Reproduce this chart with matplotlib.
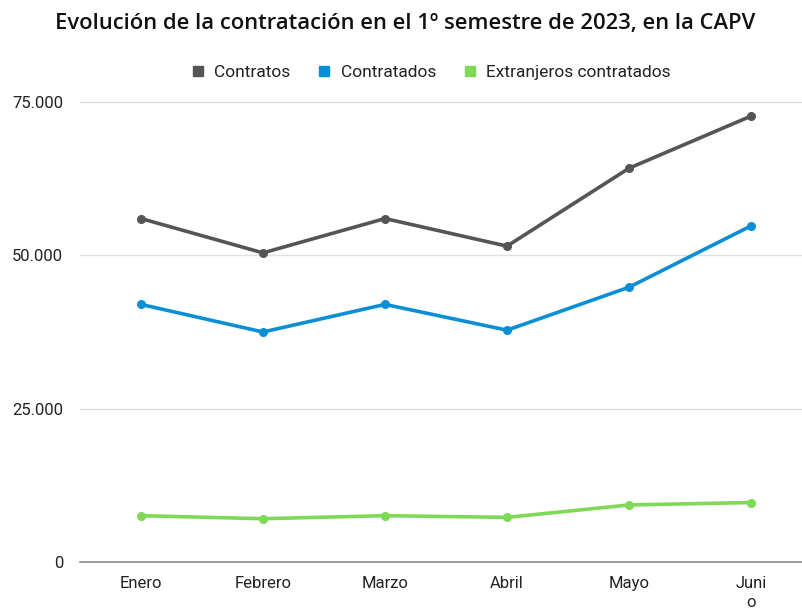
import matplotlib
matplotlib.use("Agg")
import matplotlib.pyplot as plt
from matplotlib.lines import Line2D

months = ["Enero", "Febrero", "Marzo", "Abril", "Mayo", "Juni\no"]
contratos = [56000, 50400, 56000, 51500, 64200, 72700]
contratados = [42000, 37500, 42000, 37800, 44800, 54800]
extranjeros = [7550, 7060, 7550, 7280, 9300, 9700]
series_names = ["Contratos", "Contratados", "Extranjeros contratados"]
colors = ["#555555", "#0a8fd6", "#7ed957"]
yticks = [0, 25000, 50000, 75000]
ytick_labels = ["0", "25.000", "50.000", "75.000"]

plt.rcParams['font.family'] = ['Roboto', 'DejaVu Sans']

fig = plt.figure(figsize=(8.02, 6.10), dpi=100)
W, H = 802, 610
left, right, top, bottom = 80, 812, 102, 562
ax = fig.add_axes([left / W, 1 - bottom / H, (right - left) / W, (bottom - top) / H])

x = list(range(len(months)))
for vals, c in zip([contratos, contratados, extranjeros], colors):
    ax.plot(x, vals, color=c, lw=2.6, marker='o', ms=5.5, solid_capstyle='round', zorder=3)

ax.set_xlim(-0.5, len(months) - 0.5)
ax.set_ylim(0, 75000)
ax.set_yticks(yticks)
ax.set_yticklabels(ytick_labels)
ax.set_xticks(x)
ax.set_xticklabels(months, linespacing=1.35, va='top')
ax.tick_params(axis='both', length=0, labelsize=12, colors='#222222')
ax.tick_params(axis='x', pad=10)
ax.tick_params(axis='y', pad=12)
for s in ax.spines.values():
    s.set_visible(False)
for yv in yticks[1:]:
    ax.axhline(yv, color='#e0e0e0', lw=1, zorder=1, clip_on=False)
ax.axhline(0, color='#8a8a8a', lw=1.2, zorder=2, clip_on=False)

handles = [Line2D([], [], ls='none', marker='s', ms=7, color=c) for c in colors]
fig.legend(handles, series_names, loc='center', bbox_to_anchor=(430 / W, 1 - 72 / H),
           ncol=3, frameon=False, fontsize=12.5, handletextpad=0.45, columnspacing=1.45,
           handlelength=1.0, labelcolor='#222222')

fig.text(405 / W, 1 - 24 / H, "Evolución de la contratación en el 1º semestre de 2023, en la CAPV",
         ha='center', va='center', fontsize=15.8, family=['Open Sans', 'DejaVu Sans'],
         fontweight='semibold', color='#111111')

fig.savefig("out.png", dpi=100, facecolor='white')
